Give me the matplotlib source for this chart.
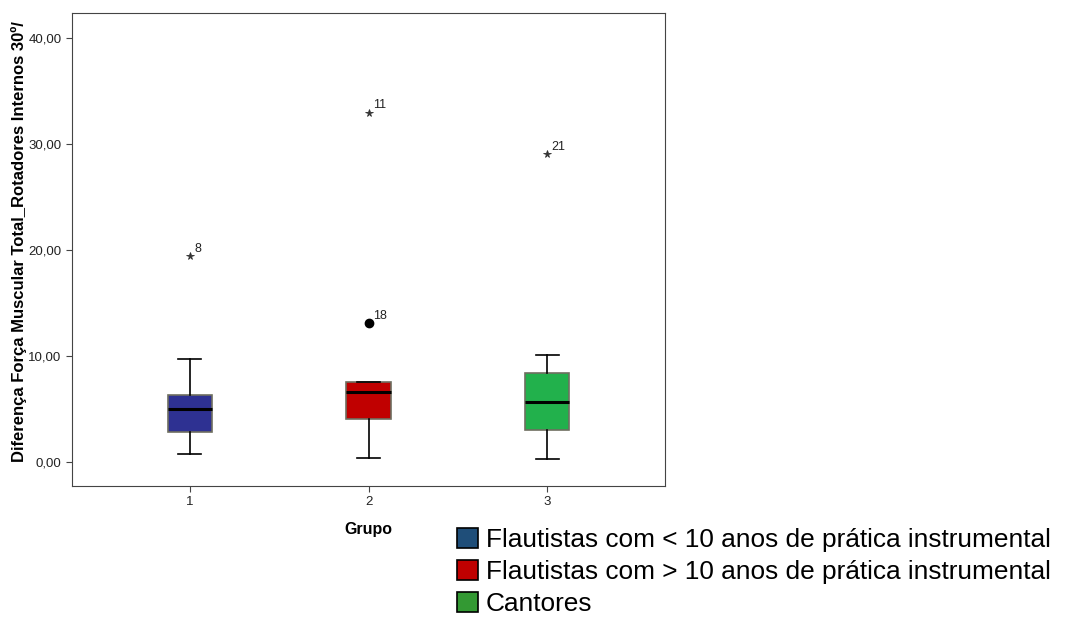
import matplotlib
matplotlib.use("Agg")
import matplotlib.pyplot as plt
from matplotlib.patches import Patch

plt.rcParams['font.family'] = ['Liberation Sans', 'DejaVu Sans']

# values
groups = [1, 2, 3]
q1 = [2.83, 4.09, 3.02]
medians = [5.0, 6.6, 5.66]
q3 = [6.32, 7.52, 8.4]
whisk_lo = [0.79, 0.38, 0.31]
whisk_hi = [9.75, 7.52, 10.12]

extreme_x = [1, 2, 3]
extreme_y = [19.46, 33.0, 29.1]
extreme_ids = ["8", "11", "21"]
outlier_x = [2]
outlier_y = [13.14]
outlier_ids = ["18"]

box_colors = ["#2e3192", "#c00000", "#22b14c"]
legend_colors = ["#1f4e79", "#c00000", "#339933"]
legend_labels = ["Flautistas com < 10 anos de prática instrumental",
                 "Flautistas com > 10 anos de prática instrumental",
                 "Cantores"]

fig = plt.figure(figsize=(10.66, 6.21), dpi=100)
ax = fig.add_axes([72 / 1066, 1 - 486 / 621, (665 - 72) / 1066, (486 - 13) / 621])

stats = []
for i in range(len(groups)):
    stats.append({"q1": q1[i], "med": medians[i], "q3": q3[i],
                  "whislo": whisk_lo[i], "whishi": whisk_hi[i], "fliers": []})

bp = ax.bxp(stats, positions=groups, widths=0.25, patch_artist=True,
            showfliers=False,
            boxprops=dict(edgecolor="#6e6e60", linewidth=1.2),
            medianprops=dict(color="black", linewidth=2.2),
            whiskerprops=dict(color="black", linewidth=1.2),
            capprops=dict(color="black", linewidth=1.2),
            capwidths=0.13)
for patch, c in zip(bp["boxes"], box_colors):
    patch.set_facecolor(c)

ax.plot(extreme_x, extreme_y, linestyle="none", marker="*", color="#333333",
        markersize=5.5, markeredgewidth=0.6)
ax.plot(outlier_x, outlier_y, linestyle="none", marker="o", color="black",
        markersize=6)
for x, y, t in zip(extreme_x + outlier_x, extreme_y + outlier_y,
                   extreme_ids + outlier_ids):
    ax.annotate(t, (x, y), xytext=(3, 3), textcoords="offset points",
                fontsize=9, color="#222222")

ax.set_xlim(0.34, 3.66)
ax.set_ylim(-2.26, 42.4)
ax.set_xticks(groups)
ax.set_xticklabels([str(g) for g in groups])
yt = [0, 10, 20, 30, 40]
ax.set_yticks(yt)
ax.set_yticklabels([("%.2f" % v).replace(".", ",") for v in yt])
ax.tick_params(labelsize=9.5, length=4, color="#444444", labelcolor="#222222")
for s in ax.spines.values():
    s.set_color("#444444")

ax.set_xlabel("Grupo", fontsize=11.5, fontweight="bold", labelpad=10)
ax.set_ylabel("Diferença Força Muscular Total_Rotadores Internos 30º/",
              fontsize=12, fontweight="bold")
ax.yaxis.set_label_coords(-0.076, 0.516)

handles = [Patch(facecolor=c, edgecolor="black", linewidth=1.2) for c in legend_colors]
fig.legend(handles, legend_labels, loc="upper left",
           bbox_to_anchor=(457 / 1066, 1 - 528 / 621), frameon=False,
           fontsize=18.9, handlelength=0.8, handleheight=0.8, handletextpad=0.3,
           labelspacing=0.3, borderaxespad=0, borderpad=0)

fig.savefig("out.png", dpi=100)
